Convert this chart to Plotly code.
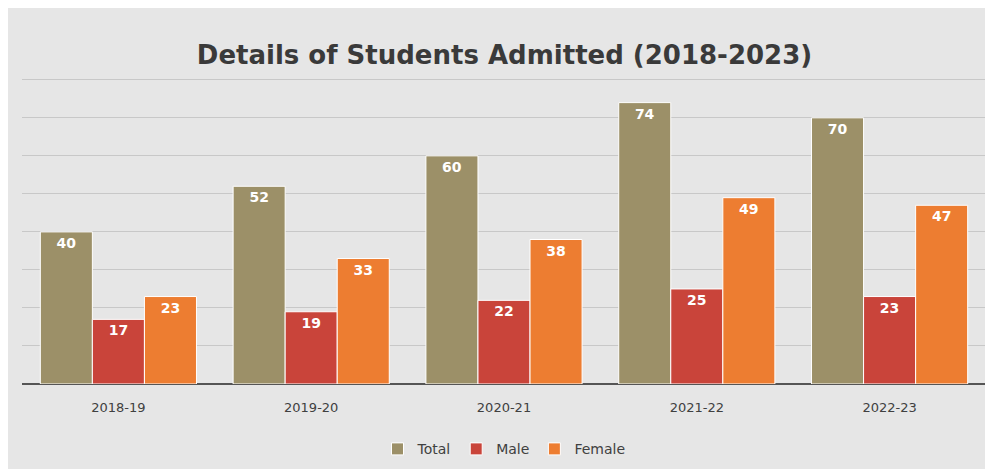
import plotly.graph_objects as go

years = ["2018-19", "2019-20", "2020-21", "2021-22", "2022-23"]
total = [40, 52, 60, 74, 70]
male = [17, 19, 22, 25, 23]
female = [23, 33, 38, 49, 47]

fig = go.Figure()
for name, vals, col in [("Total", total, "#9c9068"), ("Male", male, "#c9443a"), ("Female", female, "#ed7d31")]:
    fig.add_bar(x=years, y=vals, name=name, marker_color=col,
                marker_line=dict(color="white", width=1),
                text=vals, textposition="inside", insidetextanchor="end",
                textfont=dict(color="white", size=14, family="DejaVu Sans"),
                texttemplate="<b>%{text}</b>")

fig.update_layout(
    width=993, height=469,
    margin=dict(l=14, r=15, t=68, b=85),
    paper_bgcolor="#e6e6e6", plot_bgcolor="rgba(0,0,0,0)",
    title=dict(text="<b>Details of Students Admitted (2018-2023)</b>", x=0.5, y=0.92,
               font=dict(size=26, color="#3a3a3a", family="DejaVu Sans")),
    barmode="group", bargap=0.19, bargroupgap=0,
    legend=dict(orientation="h", x=0.5, xanchor="center", y=-0.16, yanchor="top",
                font=dict(size=14, color="#404040", family="DejaVu Sans")),
    font=dict(family="DejaVu Sans", color="#404040"),
)
fig.update_yaxes(range=[0, 81], dtick=10, showticklabels=False, gridcolor="#c8c8c8",
                 zeroline=True, zerolinecolor="#555555", zerolinewidth=2)
fig.update_xaxes(tickfont=dict(size=13, color="#404040"), ticks="", ticklabelstandoff=14)
fig.write_html("out.html")
